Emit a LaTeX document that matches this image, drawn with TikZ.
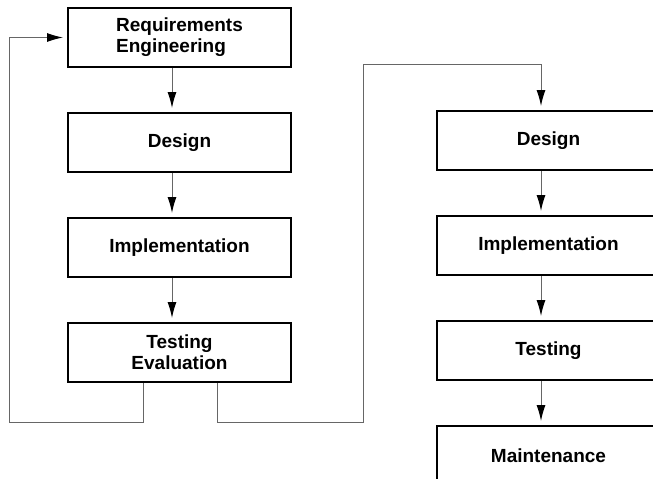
\documentclass[tikz,border=0pt]{standalone}
\usepackage{fontspec}
\setmainfont{Liberation Sans}
\usetikzlibrary{positioning,arrows.meta}
\tikzset{
every picture/.style={x=1pt, y=-1pt},
%%%%%%%%%%  Node styles
phase/.style={draw=black, line width=2pt, minimum width=223pt,
              minimum height=59pt, inner sep=0pt, align=center,
              font=\bfseries\fontsize{19}{21}\selectfont},
%%%%%%% connector styles
flow/.style={draw=black!60, line width=1pt, shorten >=4pt,
             -{Latex[length=16pt, width=9pt, color=black]}},
}
\begin{document}
\begin{tikzpicture}[node distance=44pt]
\useasboundingbox (0,0) rectangle (653,479);
% first pass, left column
\node[phase, align=left] (req) at (179.5,37.5) {Requirements\\Engineering};
\node[phase, below=of req] (des) {Design};
\node[phase, below=of des] (imp) {Implementation};
\node[phase, below=of imp] (tst) {Testing\\Evaluation};
%arrows sit a bit left of the box centres
\draw[flow] ([xshift=-7.5pt]req.south) -- ([xshift=-7.5pt]des.north);
\draw[flow] ([xshift=-7.5pt]des.south) -- ([xshift=-7.5pt]imp.north);
\draw[flow] ([xshift=-7.5pt]imp.south) -- ([xshift=-7.5pt]tst.north);
% second pass, right column (runs off the page)
\node[phase] (desB) at (548.5,140.5) {Design};
\node[phase, below=of desB] (impB) {Implementation};
\node[phase, below=of impB] (tstB) {Testing};
\node[phase, below=of tstB] (mnt) {Maintenance};
\draw[flow] ([xshift=-7.5pt]desB.south) -- ([xshift=-7.5pt]impB.north);
\draw[flow] ([xshift=-7.5pt]impB.south) -- ([xshift=-7.5pt]tstB.north);
\draw[flow] ([xshift=-7.5pt]tstB.south) -- ([xshift=-7.5pt]mnt.north);
% iterate back / move on
\coordinate (back) at (9,422);
\coordinate (fwd) at (363,422);
\coordinate (top) at (363,64);
\draw[flow] ([xshift=-36pt]tst.south) |- (back) |- (req.west);
\draw[flow] ([xshift=38pt]tst.south) |- (fwd) -- (top)
  -| ([xshift=-7.5pt]desB.north);
\end{tikzpicture}
\end{document}
